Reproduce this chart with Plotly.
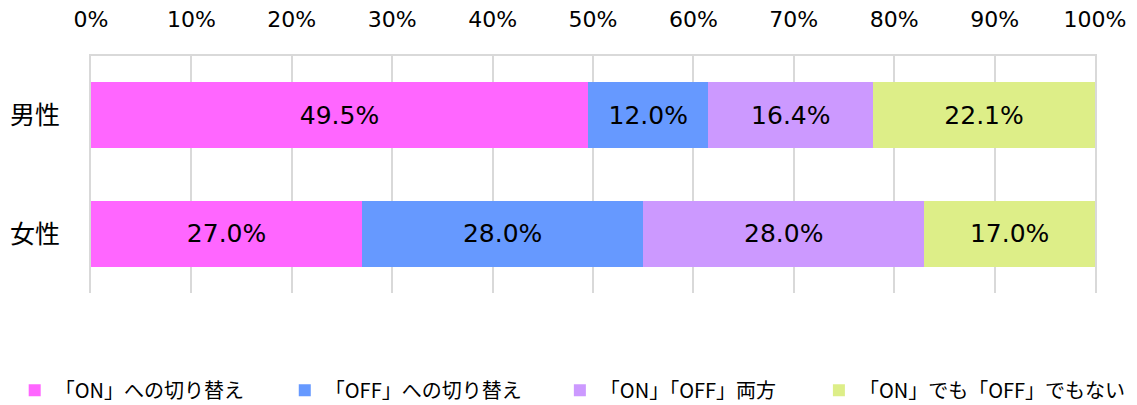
import plotly.graph_objects as go

categories = ["男性", "女性"]
series_names = ["「ON」への切り替え", "「OFF」への切り替え", "「ON」「OFF」両方", "「ON」でも「OFF」でもない"]
values = {
    "「ON」への切り替え": [49.5, 27.0],
    "「OFF」への切り替え": [12.0, 28.0],
    "「ON」「OFF」両方": [16.4, 28.0],
    "「ON」でも「OFF」でもない": [22.1, 17.0],
}
colors = ["#FF66FF", "#6699FF", "#CC99FF", "#DDEE88"]
tick_vals = [0, 10, 20, 30, 40, 50, 60, 70, 80, 90, 100]
tick_text = [f"{v}%" for v in tick_vals]

FONT = "DejaVu Sans, Noto Sans CJK JP, sans-serif"
CJK = "Noto Sans CJK JP, DejaVu Sans, sans-serif"
GRID = "#D9D9D9"

legend_ids = ["legend", "legend2", "legend3", "legend4"]
legend_x = [-0.076, 0.193, 0.467, 0.725]

fig = go.Figure()
for name, col, lid in zip(series_names, colors, legend_ids):
    vals = values[name]
    fig.add_trace(go.Bar(
        y=categories, x=vals, name=name, orientation="h",
        marker=dict(color=col, line=dict(width=0)),
        text=[f"{v:.1f}%" for v in vals], textposition="inside",
        insidetextanchor="middle", textangle=0,
        textfont=dict(size=25, color="#000000", family=FONT),
        hoverinfo="skip", legend=lid,
    ))

legend_common = dict(orientation="h", y=-0.41, yanchor="middle", xanchor="left",
                     font=dict(size=20, family=CJK), bgcolor="rgba(0,0,0,0)",
                     itemwidth=30)

# page body has an 8px margin, so the figure is 8px smaller and margins shifted
fig.update_layout(
    barmode="stack",
    bargap=0.44,
    width=1129, height=397,
    margin=dict(l=83, r=42, t=48, b=112, autoexpand=False),
    paper_bgcolor="white", plot_bgcolor="white",
    font=dict(family=FONT, color="#000000"),
    uniformtext=dict(mode="show", minsize=10),
    showlegend=True,
    legend=dict(x=legend_x[0], **legend_common),
    legend2=dict(x=legend_x[1], **legend_common),
    legend3=dict(x=legend_x[2], **legend_common),
    legend4=dict(x=legend_x[3], **legend_common),
)
fig.update_xaxes(
    range=[0, 100], side="top", tickvals=tick_vals, ticktext=tick_text,
    showgrid=True, gridcolor=GRID, gridwidth=2, zeroline=False,
    showline=True, linecolor=GRID, linewidth=2, mirror=False,
    tickfont=dict(size=22, family=FONT), ticks="", ticklabelstandoff=18,
    fixedrange=True, automargin=False,
)
fig.update_yaxes(
    autorange="reversed", showgrid=False, zeroline=False,
    showline=True, linecolor=GRID, linewidth=2, mirror=True,
    tickfont=dict(size=25, family=CJK), ticks="", ticklabelstandoff=24,
    automargin=False,
)

fig.write_html("out.html")
